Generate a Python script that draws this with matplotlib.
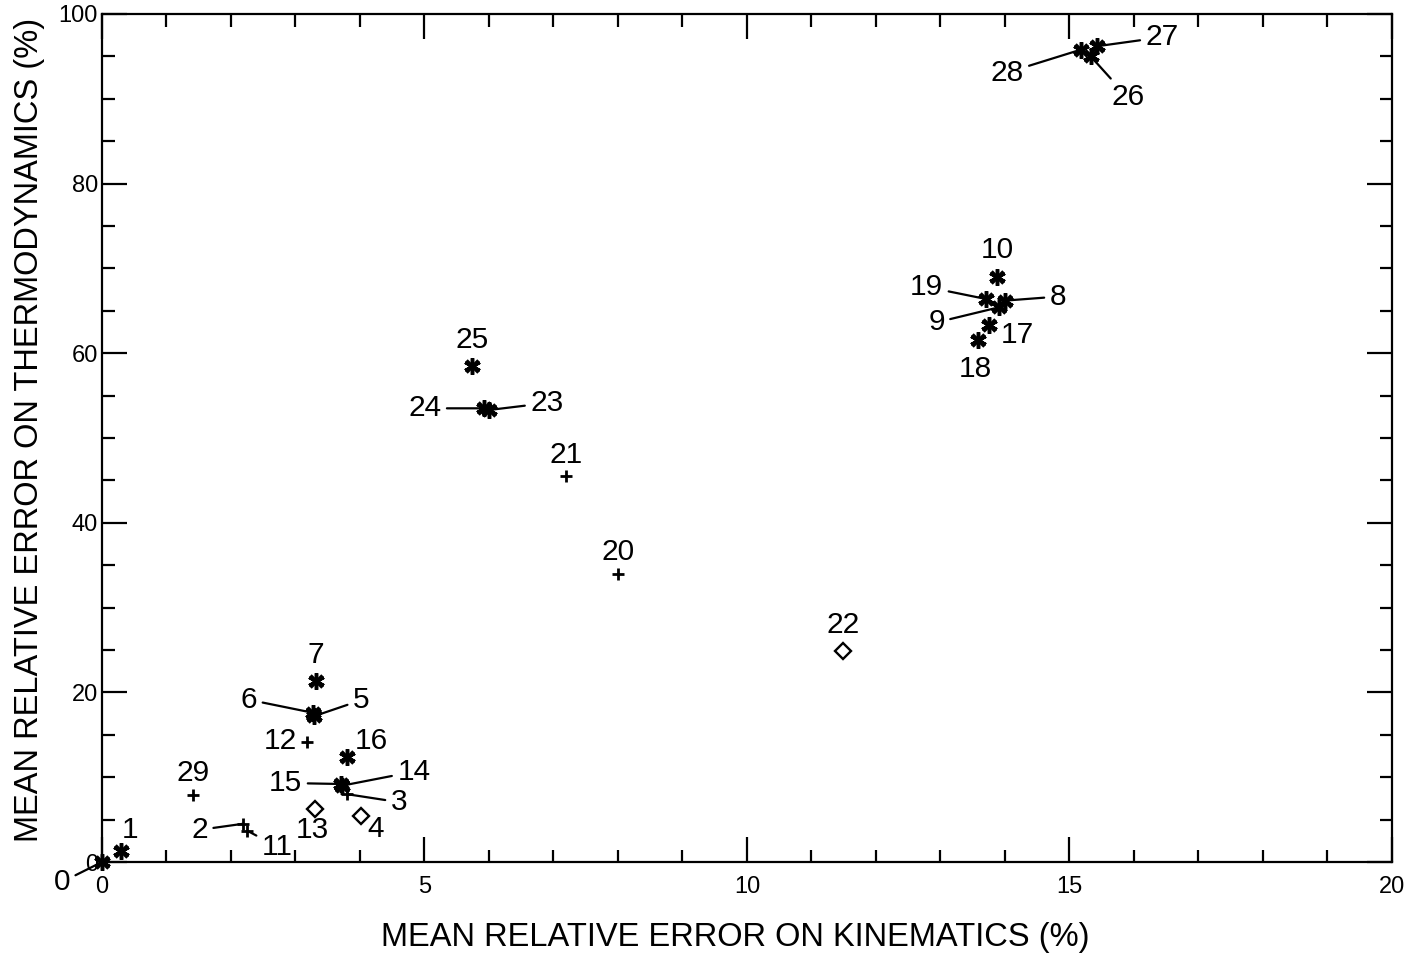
import matplotlib
matplotlib.use("Agg")
import matplotlib.pyplot as plt
from matplotlib.ticker import MultipleLocator

plt.rcParams['font.family'] = ['Liberation Sans', 'DejaVu Sans']

# ---- data ----
labels = ["0", "1", "2", "3", "4", "5", "6", "7", "8", "9", "10",
          "11", "12", "13", "14", "15", "16", "17", "18", "19", "20",
          "21", "22", "23", "24", "25", "26", "27", "28", "29"]
kin_err = [0.0, 0.29, 2.18, 3.8, 4.02, 3.29, 3.27, 3.32, 14.0, 13.9, 13.88,
           2.25, 3.18, 3.3, 3.72, 3.70, 3.80, 13.75, 13.58, 13.70, 8.0,
           7.2, 11.49, 6.0, 5.92, 5.74, 15.33, 15.43, 15.18, 1.41]
thermo_err = [0.0, 1.3, 4.5, 8.0, 5.4, 17.2, 17.6, 21.3, 66.2, 65.4, 69.0,
              3.7, 14.2, 6.2, 9.0, 9.2, 12.4, 63.3, 61.6, 66.4, 34.0,
              45.5, 24.9, 53.3, 53.5, 58.5, 95.0, 96.2, 95.8, 7.9]
# IDL-like symbols: '*' asterisk, '+' plus, 'd' diamond
symbol = ["*", "*", "+", "+", "d", "*", "*", "*", "*", "*", "*",
          "+", "+", "d", "*", "*", "*", "*", "*", "*", "+",
          "+", "d", "*", "*", "*", "*", "*", "*", "+"]

# label offsets in pixels and whether a leader line is drawn
label_off = {
    "0": (-40, -20, True), "1": (9, 21, False), "2": (-43, -6, True),
    "3": (52, -8, True), "4": (14, -13, False), "5": (47, 16, True),
    "6": (-64, 13, True), "7": (0, 26, False), "8": (53, 4, True),
    "9": (-62, -15, True), "10": (0, 27, False), "11": (30, -16, True),
    "12": (-27, 1, False), "13": (-2, -21, False), "14": (72, 14, True),
    "15": (-55, 1, True), "16": (24, 16, False), "17": (29, -10, False),
    "18": (-3, -29, False), "19": (-59, 12, True), "20": (0, 22, False),
    "21": (0, 21, False), "22": (0, 26, False), "23": (58, 7, True),
    "24": (-59, 0, True), "25": (0, 26, False), "26": (37, -41, True),
    "27": (65, 9, True), "28": (-74, -23, True), "29": (0, 22, False),
}

fig = plt.figure(figsize=(14.24, 9.58), dpi=100)
ax = fig.add_axes([0.0716, 0.1002, 0.9059, 0.8852])

def draw_symbol(x, y, s):
    if s == "*":
        ax.plot(x, y, marker=(6, 2, 0), ms=12, mew=2.5, color="black", ls="none",
                zorder=3, clip_on=False)
        ax.plot(x, y, marker="x", ms=8, mew=2.5, color="black", ls="none",
                zorder=3, clip_on=False)
    elif s == "+":
        ax.plot(x, y, marker="+", ms=8.5, mew=2, color="black", ls="none",
                zorder=3, clip_on=False)
    else:
        ax.plot(x, y, marker="D", ms=8.5, mew=1.7, mfc="white", mec="black", ls="none",
                zorder=3, clip_on=False)

for lab, x, y, s in zip(labels, kin_err, thermo_err, symbol):
    draw_symbol(x, y, s)
    dx, dy, line = label_off[lab]
    props = None
    if line:
        props = dict(arrowstyle="-", color="black", lw=1.6, shrinkA=2, shrinkB=0)
    ax.annotate(lab, xy=(x, y), xytext=(dx, dy), textcoords="offset pixels",
                ha="center", va="center", fontsize=21.5, arrowprops=props,
                annotation_clip=False, zorder=4)

ax.set_xlim(0, 20)
ax.set_ylim(0, 100)
ax.xaxis.set_major_locator(MultipleLocator(5))
ax.xaxis.set_minor_locator(MultipleLocator(1))
ax.yaxis.set_major_locator(MultipleLocator(20))
ax.yaxis.set_minor_locator(MultipleLocator(5))
ax.tick_params(which="both", direction="in", top=True, right=True,
               width=1.6, labelsize=17)
ax.tick_params(which="major", length=18)
ax.tick_params(which="minor", length=9)
ax.tick_params(axis="x", which="major", pad=10)
ax.tick_params(axis="y", which="major", pad=3)
for sp in ax.spines.values():
    sp.set_linewidth(1.6)

ax.set_xlabel("MEAN RELATIVE ERROR ON KINEMATICS (%)", fontsize=23.5)
ax.set_ylabel("MEAN RELATIVE ERROR ON THERMODYNAMICS (%)", fontsize=23.5)
ax.xaxis.set_label_coords(0.4907, -0.071)
ax.yaxis.set_label_coords(-0.044, 0.509)

fig.savefig("out.png", dpi=100)
